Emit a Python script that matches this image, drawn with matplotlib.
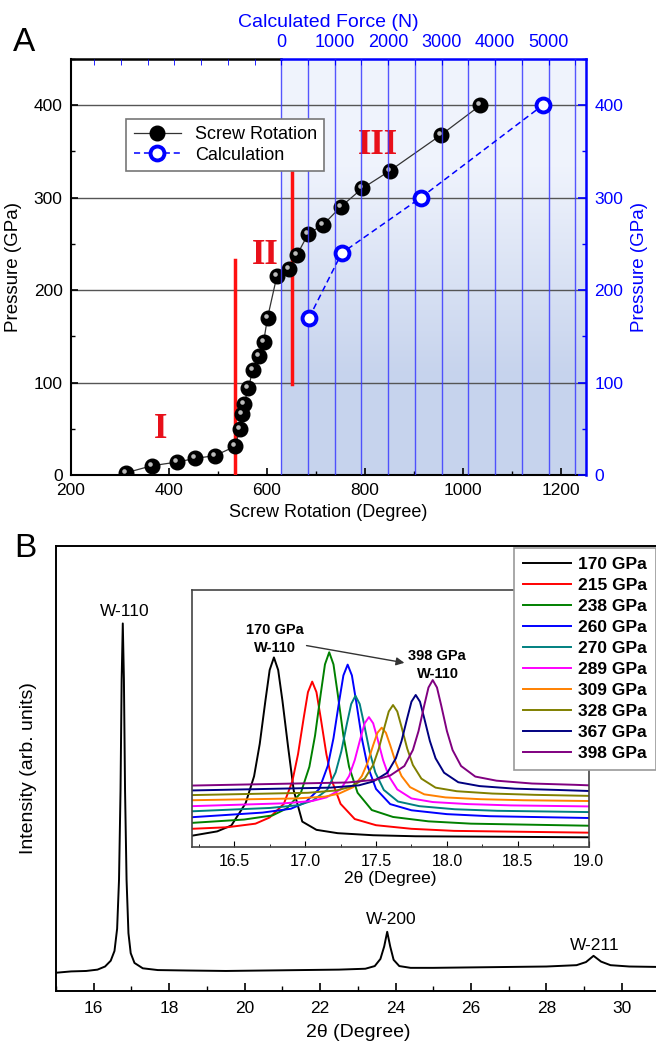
import numpy as np
import matplotlib
matplotlib.use('Agg')
import matplotlib.pyplot as plt
from matplotlib.ticker import MultipleLocator
from matplotlib.transforms import offset_copy

plt.rcParams['font.family'] = ['Liberation Sans', 'DejaVu Sans']
plt.rcParams['xtick.direction'] = 'in'
plt.rcParams['ytick.direction'] = 'in'

# ---- Panel A data ----
rotation_deg = [313, 365, 416, 454, 494, 535, 545, 548, 553, 562, 571, 583, 593,
                601, 620, 644, 661, 684, 715, 750, 794, 850, 955, 1035]
rotation_gpa = [2.5, 10, 14, 18, 21, 31, 50, 65.5, 77, 94, 114, 128.5, 144,
                170, 215, 223, 238, 261, 271, 290, 310, 329, 368, 400]
calc_force = [520, 1130, 2610, 4890]
calc_gpa = [170, 240, 300, 400]
force_ticks = [0, 1000, 2000, 3000, 4000, 5000]
force_grid = [0, 500, 1000, 1500, 2000, 2500, 3000, 3500, 4000, 4500, 5000, 5500]
force_zero_deg = 629      # screw rotation where the force scale starts
deg_per_kn = 109          # degrees of rotation per 1000 N on the top scale
stage_lines = [(534, 0, 233), (650, 98, 331)]
stage_labels = [('I', 382, 49), ('II', 597, 238), ('III', 827, 357)]

# ---- Panel B data: full pattern ----
tt_full = [15.0, 15.4, 15.8, 16.1, 16.3, 16.45, 16.55, 16.62, 16.67, 16.71, 16.74,
           16.77, 16.80, 16.83, 16.87, 16.92, 16.98, 17.08, 17.3, 17.7, 18.5, 19.5,
           20.5, 21.5, 22.5, 23.2, 23.45, 23.6, 23.7, 23.78, 23.86, 23.95, 24.1,
           24.4, 25.0, 26.0, 27.0, 28.0, 28.8, 29.05, 29.25, 29.45, 29.7, 30.2, 31.0]
int_full = [0.041, 0.044, 0.045, 0.048, 0.055, 0.068, 0.09, 0.14, 0.25, 0.45, 0.70,
            0.826, 0.70, 0.45, 0.25, 0.13, 0.085, 0.063, 0.051, 0.047, 0.046, 0.045,
            0.046, 0.047, 0.048, 0.050, 0.056, 0.072, 0.10, 0.133, 0.10, 0.07, 0.056,
            0.052, 0.052, 0.053, 0.054, 0.055, 0.058, 0.065, 0.079, 0.066, 0.058,
            0.055, 0.054]
peak_labels = [('W-110', 16.83, 0.852), ('W-200', 23.9, 0.16), ('W-211', 29.28, 0.103)]

# ---- Panel B inset: W-110 peak vs pressure ----
pressures = ['170 GPa', '215 GPa', '238 GPa', '260 GPa', '270 GPa',
             '289 GPa', '309 GPa', '328 GPa', '367 GPa', '398 GPa']
colors = ['#000000', '#ff0000', '#008000', '#0000ff', '#008080',
          '#ff00ff', '#ff8000', '#808000', '#000080', '#800080']
inset_x = [
    [16.2, 16.38, 16.48, 16.58, 16.64, 16.68, 16.72, 16.75, 16.78, 16.81, 16.84, 16.88,
     16.92, 16.98, 17.08, 17.23, 17.48, 17.78, 19.0],
    [16.2, 16.45, 16.65, 16.75, 16.85, 16.91, 16.95, 16.99, 17.02, 17.05, 17.08, 17.11,
     17.15, 17.19, 17.25, 17.35, 17.5, 17.75, 18.05, 19.0],
    [16.2, 16.57, 16.77, 16.87, 16.97, 17.03, 17.07, 17.11, 17.14, 17.17, 17.20, 17.23,
     17.27, 17.31, 17.37, 17.47, 17.62, 17.87, 18.17, 19.0],
    [16.2, 16.7, 16.9, 17.0, 17.1, 17.16, 17.2, 17.24, 17.27, 17.30, 17.33, 17.36,
     17.40, 17.44, 17.50, 17.60, 17.75, 18.0, 18.3, 19.0],
    [16.2, 16.75, 16.955, 17.055, 17.155, 17.215, 17.255, 17.295, 17.325, 17.355, 17.385,
     17.415, 17.455, 17.495, 17.555, 17.655, 17.805, 18.055, 18.355, 19.0],
    [16.2, 16.85, 17.05, 17.15, 17.25, 17.31, 17.35, 17.39, 17.42, 17.45, 17.48, 17.51,
     17.55, 17.59, 17.65, 17.75, 17.9, 18.15, 18.45, 19.0],
    [16.2, 16.94, 17.14, 17.24, 17.34, 17.40, 17.44, 17.48, 17.51, 17.54, 17.57, 17.60,
     17.64, 17.68, 17.74, 17.84, 17.99, 18.24, 18.54, 19.0],
    [16.2, 17.02, 17.22, 17.32, 17.42, 17.48, 17.52, 17.56, 17.59, 17.62, 17.65, 17.68,
     17.72, 17.76, 17.82, 17.92, 18.07, 18.32, 18.62, 19.0],
    [16.2, 17.18, 17.38, 17.48, 17.58, 17.64, 17.68, 17.72, 17.75, 17.78, 17.81, 17.84,
     17.88, 17.92, 17.98, 18.08, 18.23, 18.48, 18.78, 19.0],
    [16.2, 17.3, 17.5, 17.6, 17.7, 17.76, 17.8, 17.84, 17.87, 17.90, 17.93, 17.96,
     18.0, 18.04, 18.1, 18.2, 18.35, 18.6, 18.9, 19.0],
]
inset_y = [
    [0.045, 0.062, 0.085, 0.171, 0.276, 0.402, 0.570, 0.689, 0.738, 0.689, 0.570, 0.390,
     0.220, 0.100, 0.068, 0.055, 0.047, 0.043, 0.039],
    [0.072, 0.078, 0.092, 0.116, 0.169, 0.257, 0.362, 0.503, 0.603, 0.644, 0.603, 0.503,
     0.362, 0.257, 0.169, 0.110, 0.086, 0.072, 0.064, 0.057],
    [0.095, 0.108, 0.124, 0.151, 0.212, 0.313, 0.434, 0.596, 0.711, 0.758, 0.711, 0.596,
     0.434, 0.313, 0.212, 0.145, 0.118, 0.101, 0.092, 0.084],
    [0.117, 0.135, 0.150, 0.174, 0.227, 0.317, 0.424, 0.567, 0.668, 0.710, 0.668, 0.567,
     0.424, 0.317, 0.227, 0.168, 0.144, 0.129, 0.121, 0.114],
    [0.140, 0.153, 0.164, 0.182, 0.223, 0.291, 0.372, 0.481, 0.557, 0.589, 0.557, 0.481,
     0.372, 0.291, 0.223, 0.178, 0.160, 0.148, 0.142, 0.137],
    [0.160, 0.171, 0.180, 0.194, 0.225, 0.277, 0.339, 0.423, 0.482, 0.506, 0.482, 0.423,
     0.339, 0.277, 0.225, 0.190, 0.176, 0.168, 0.163, 0.159],
    [0.183, 0.190, 0.197, 0.209, 0.234, 0.277, 0.328, 0.397, 0.445, 0.465, 0.445, 0.397,
     0.328, 0.277, 0.234, 0.206, 0.194, 0.187, 0.183, 0.180],
    [0.203, 0.212, 0.221, 0.235, 0.267, 0.320, 0.384, 0.468, 0.528, 0.553, 0.528, 0.468,
     0.384, 0.320, 0.267, 0.232, 0.218, 0.209, 0.204, 0.200],
    [0.221, 0.232, 0.241, 0.256, 0.290, 0.346, 0.413, 0.502, 0.566, 0.592, 0.566, 0.502,
     0.413, 0.346, 0.290, 0.253, 0.238, 0.228, 0.223, 0.219],
    [0.240, 0.252, 0.263, 0.279, 0.316, 0.378, 0.452, 0.551, 0.621, 0.650, 0.621, 0.551,
     0.452, 0.378, 0.316, 0.275, 0.259, 0.248, 0.243, 0.241],
]

fig = plt.figure(figsize=(6.56, 10.47), dpi=100)

# ================= Panel A =================
ax = fig.add_axes([0.108, 0.5463, 0.785, 0.3973])
ax.set_xlim(200, 1250)
ax.set_ylim(0, 450)

# shaded force region with a vertical gradient
grad = np.array([[0.78, 0.83, 0.93], [0.94, 0.955, 0.99]])[:, None, :]
ax.imshow(grad, extent=[force_zero_deg, 1250, 0, 450], origin='lower',
          aspect='auto', interpolation='bilinear', zorder=0)

for y in [100, 200, 300, 400]:
    ax.axhline(y, color='#555555', lw=1.0, zorder=1)

for x, y0, y1 in stage_lines:
    ax.plot([x, x], [y0, y1], color='#ff1010', lw=2.5, zorder=3)
for txt, x, y in stage_labels:
    ax.text(x, y, txt, color='#e8101a', fontsize=25, fontweight='bold',
            family='Liberation Serif', ha='center', va='center', zorder=3)

h_rot, = ax.plot(rotation_deg, rotation_gpa, '-o', color='#333333', lw=0.9,
                 markersize=10.5, markerfacecolor='black', markeredgecolor='black',
                 zorder=5, label='Screw Rotation')
hl = offset_copy(ax.transData, fig=fig, x=-2.0, y=2.0, units='dots')
ax.plot(rotation_deg, rotation_gpa, 'o', color='#bbbbbb', markersize=3.3,
        markeredgewidth=0, transform=hl, zorder=6)

ax.spines['top'].set_visible(False)
ax.spines['right'].set_visible(False)
for s in ['left', 'bottom']:
    ax.spines[s].set_linewidth(1.5)
top_frac = (force_zero_deg - 200) / (1250 - 200)
ax.axhline(450, xmin=0, xmax=top_frac, color='black', lw=1.8, clip_on=False, zorder=7)
ax.axhline(450, xmin=top_frac, xmax=1, color='#0000ff', lw=1.8, clip_on=False, zorder=7)

ax.xaxis.set_major_locator(MultipleLocator(200))
ax.xaxis.set_minor_locator(MultipleLocator(100))
ax.yaxis.set_major_locator(MultipleLocator(100))
ax.yaxis.set_minor_locator(MultipleLocator(50))
ax.tick_params(which='major', length=5, width=1.2, labelsize=12.5, pad=6)
ax.tick_params(which='minor', length=3, width=1.0)
ax.set_xlabel('Screw Rotation (Degree)', fontsize=13, labelpad=4)
ax.set_ylabel('Pressure (GPa)', fontsize=13.5, labelpad=8)

# right axis (pressure, blue)
axr = ax.twinx()
axr.set_ylim(0, 450)
axr.set_yticks([0, 100, 200, 300, 400])
axr.yaxis.set_minor_locator(MultipleLocator(50))
axr.tick_params(axis='y', which='major', colors='#0000ff', length=6, width=1.2,
                labelsize=12.5, pad=6)
axr.tick_params(axis='y', which='minor', colors='#0000ff', length=3, width=1.0)
for s in ['left', 'top', 'bottom']:
    axr.spines[s].set_visible(False)
axr.spines['right'].set_color('#0000ff')
axr.spines['right'].set_linewidth(1.8)
axr.set_ylabel('Pressure (GPa)', color='#0000ff', fontsize=13.5, labelpad=6)

# top axis (calculated force, blue)
axt = ax.twiny()
axt.set_xlim((200 - force_zero_deg) * 1000 / deg_per_kn,
             (1250 - force_zero_deg) * 1000 / deg_per_kn)
axt.set_ylim(0, 450)
for f in force_grid:
    axt.axvline(f, color='#3a3aff', lw=1.0, alpha=0.85, zorder=1)
h_calc, = axt.plot(calc_force, calc_gpa, '--o', color='#0000ff', lw=1.1,
                   dashes=(4, 2.5), markersize=10, markerfacecolor='white',
                   markeredgecolor='#0000ff', markeredgewidth=2.8, zorder=5,
                   label='Calculation')
axt.set_xticks(force_ticks)
axt.xaxis.set_minor_locator(MultipleLocator(500))
axt.tick_params(axis='x', which='both', colors='#0000ff', labelsize=13, length=4, pad=6)
for s in axt.spines.values():
    s.set_visible(False)
axt.set_xlabel('Calculated Force (N)', color='#0000ff', fontsize=14, labelpad=5)
axt.set_zorder(ax.get_zorder() + 1)
axt.patch.set_visible(False)

leg = axt.legend([h_rot, h_calc], ['Screw Rotation', 'Calculation'],
                 loc='upper left', bbox_to_anchor=(0.108, 0.856),
                 borderaxespad=0, fontsize=13, fancybox=False,
                 edgecolor='#777777', framealpha=1, handlelength=2.6,
                 borderpad=0.4, labelspacing=0.2)
leg.get_frame().set_linewidth(1.2)

fig.text(0.037, 0.959, 'A', fontsize=24, ha='center', va='center')

# ================= Panel B =================
ax2 = fig.add_axes([0.0854, 0.0535, 0.92, 0.425])
ax2.plot(tt_full, int_full, color='black', lw=1.4)
ax2.set_xlim(15, 31)
ax2.set_ylim(0, 1)
ax2.set_yticks([])
ax2.spines['right'].set_visible(False)
for s in ['left', 'bottom', 'top']:
    ax2.spines[s].set_linewidth(1.4)
ax2.xaxis.set_major_locator(MultipleLocator(2))
ax2.xaxis.set_minor_locator(MultipleLocator(1))
ax2.tick_params(which='major', length=6, width=1.2, labelsize=12.5, pad=7)
ax2.tick_params(which='minor', length=3.5, width=1.0)
ax2.set_xlabel('2\u03b8 (Degree)', fontsize=14, labelpad=6)
ax2.set_ylabel('Intensity (arb. units)', fontsize=14, labelpad=14)
for txt, x, y in peak_labels:
    ax2.text(x, y, txt, fontsize=12.5, ha='center', va='center')

fig.text(0.038, 0.476, 'B', fontsize=24, ha='center', va='center')

# inset
axi = fig.add_axes([0.2922, 0.1907, 0.6052, 0.2458])
handles = []
for xs, ys, c, lab in zip(inset_x, inset_y, colors, pressures):
    h, = axi.plot(xs, ys, color=c, lw=1.4, label=lab)
    handles.append(h)
axi.set_xlim(16.2, 19.0)
axi.set_ylim(0, 1)
axi.set_yticks([])
axi.xaxis.set_major_locator(MultipleLocator(0.5))
axi.xaxis.set_minor_locator(MultipleLocator(0.25))
axi.tick_params(which='major', length=4, labelsize=11.5, pad=5)
axi.tick_params(which='minor', length=2.5)
for s in axi.spines.values():
    s.set_color('#444444')
    s.set_linewidth(1.2)
axi.set_xlabel('2\u03b8 (Degree)', fontsize=12.5, labelpad=1)
axi.text(16.79, 0.845, '170 GPa', fontsize=10.5, fontweight='bold', ha='center', va='center')
axi.text(16.79, 0.775, 'W-110', fontsize=10.5, fontweight='bold', ha='center', va='center')
axi.text(17.93, 0.744, '398 GPa', fontsize=10.5, fontweight='bold', ha='center', va='center')
axi.text(17.94, 0.672, 'W-110', fontsize=10.5, fontweight='bold', ha='center', va='center')
axi.annotate('', xy=(17.70, 0.717), xytext=(17.01, 0.784),
             arrowprops=dict(arrowstyle='-|>', color='#333333', lw=1.0,
                             mutation_scale=12, shrinkA=0, shrinkB=0))

fleg = fig.legend(handles, pressures, loc='upper left',
                  bbox_to_anchor=(0.7835, 0.4766), borderaxespad=0,
                  prop={'weight': 'bold', 'size': 12.5}, fancybox=False,
                  edgecolor='#999999', framealpha=1, handlelength=2.8,
                  labelspacing=0.34, borderpad=0.5, handletextpad=0.4)
fleg.get_frame().set_linewidth(1.2)
for line in fleg.get_lines():
    line.set_linewidth(1.4)

fig.savefig('out.png', dpi=100)
